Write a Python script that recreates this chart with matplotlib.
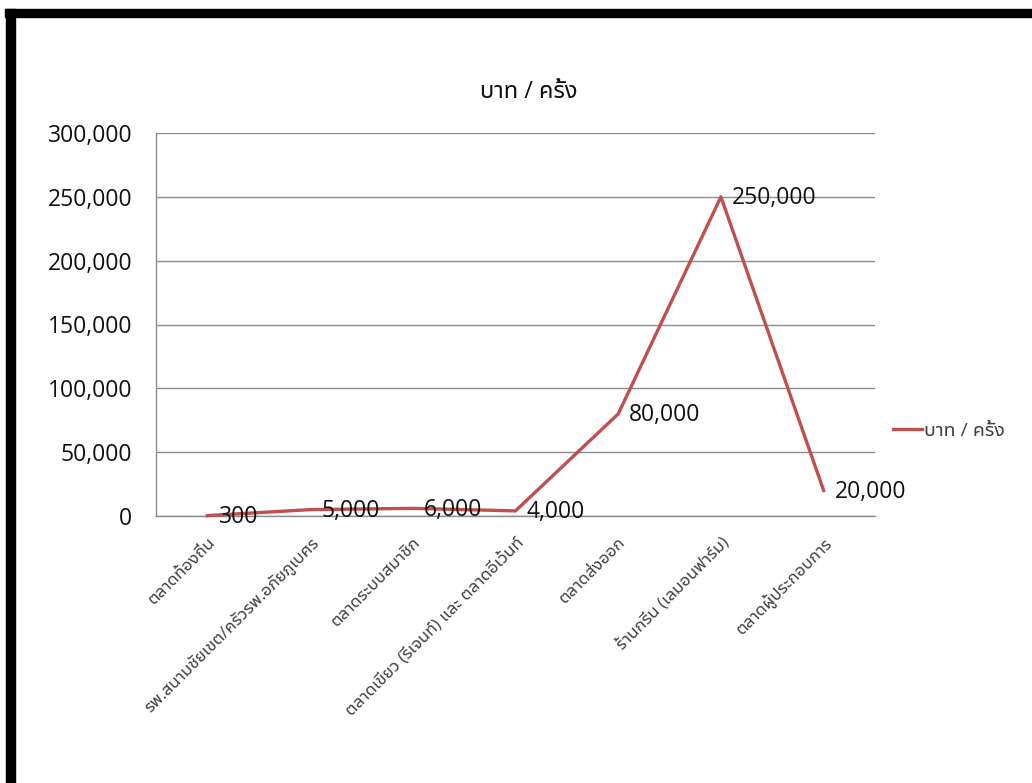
import matplotlib
matplotlib.use('Agg')
import matplotlib.pyplot as plt
from matplotlib.patches import Rectangle
from matplotlib.ticker import FuncFormatter, MultipleLocator

categories = ['ตลาดท้องถิ่น',
              'รพ.สนามชัยเขต/ครัวรพ.อภัยภูเบศร',
              'ตลาดระบบสมาชิก',
              'ตลาดเขียว (รีเจนท์) และ ตลาดอีเว้นท์',
              'ตลาดส่งออก',
              'ร้านกรีน (เลมอนฟาร์ม)',
              'ตลาดผู้ประกอบการ']
values = [300, 5000, 6000, 4000, 80000, 250000, 20000]
series_name = 'บาท / ครั้ง'
title = 'บาท / ครั้ง'

FAM = ['Open Sans', 'Noto Sans Thai UI', 'DejaVu Sans']
plt.rcParams['font.family'] = FAM

W, H = 1032, 783
fig = plt.figure(figsize=(W / 100, H / 100), dpi=100)
fig.patch.set_facecolor('white')

# black frame (top and left bars)
fig.patches.append(Rectangle((5 / W, 1 - 17 / H), 1 - 5 / W, 8 / H,
                             transform=fig.transFigure, color='black', zorder=10))
fig.patches.append(Rectangle((6 / W, 0), 9 / W, 1 - 9 / H,
                             transform=fig.transFigure, color='black', zorder=10))

ax = fig.add_axes([156 / W, 1 - 516 / H, (875 - 156) / W, (516 - 133) / H])
x = list(range(len(categories)))
line, = ax.plot(x, values, color='#C0504D', lw=2.4, label=series_name,
                solid_joinstyle='round', clip_on=False, zorder=3)

ax.set_xlim(-0.5, len(categories) - 0.5)
ax.set_ylim(0, 300000)
ax.yaxis.set_major_locator(MultipleLocator(50000))
ax.yaxis.set_major_formatter(FuncFormatter(lambda v, p: f'{int(v):,}'))
ax.grid(axis='y', color='#8c8c8c', lw=1)
ax.set_axisbelow(True)
for s in ['top', 'right']:
    ax.spines[s].set_visible(False)
for s in ['left', 'bottom']:
    ax.spines[s].set_color('#8c8c8c')
    ax.spines[s].set_linewidth(1)
ax.tick_params(axis='y', length=0, pad=17, labelsize=16.5, labelcolor='#111111')
ax.tick_params(axis='x', length=0, pad=13)
ax.set_xticks(x)
ax.set_xticklabels(categories, rotation=45, ha='right', rotation_mode='anchor',
                   fontsize=12.3, color='#404040')

for xi, v in zip(x, values):
    ax.annotate(f'{v:,}', (xi, v), xytext=(8, -1), textcoords='offset points',
                ha='left', va='center', fontsize=16.5, color='#111111', zorder=4)

fig.text(529 / W, 1 - 92 / H, title, ha='center', va='center', fontsize=17, color='#111111')

leg = fig.legend(handles=[line], labels=[series_name], loc='center left',
                 bbox_to_anchor=(893 / W, 1 - 431 / H), frameon=False,
                 fontsize=14, handlelength=1.5, handletextpad=0.1,
                 borderaxespad=0, borderpad=0)
for t in leg.get_texts():
    t.set_color('#404040')

fig.savefig('out.png', dpi=100, facecolor='white')
